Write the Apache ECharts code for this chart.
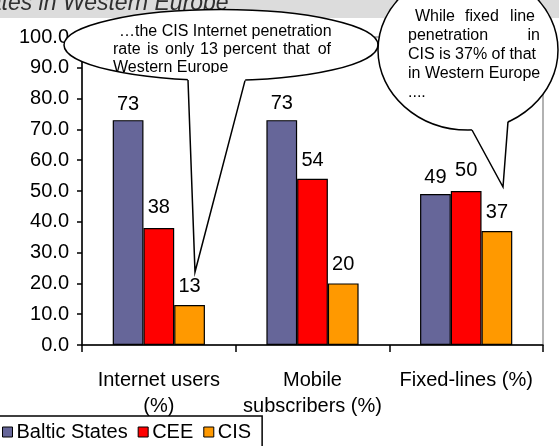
<!DOCTYPE html>
<html>
<head>
<meta charset="utf-8">
<script src="https://cdn.jsdelivr.net/npm/echarts@6/dist/echarts.min.js"></script>
<style>
  html, body { margin: 0; padding: 0; background: #fff; }
  #chart { width: 559px; height: 446px; }
</style>
</head>
<body>
<div id="chart"></div>
<script>
// Penetration rates by region (%)
const categories = ['Internet users\n(%)', 'Mobile\nsubscribers (%)', 'Fixed-lines (%)'];
const seriesNames = ['Baltic States', 'CEE', 'CIS'];
const balticStates = [73, 73, 49];
const cee = [38, 54, 50];
const cis = [13, 20, 37];
const colors = ['#666699', '#FF0000', '#FF9900'];

// per-bar label offsets above the bar top
const labelDistance = [[6, 7, 7], [10, 8, 11], [8, 9, 9]];

const FONT = '"Liberation Sans", Arial, sans-serif';

function barSeries(name, values, color, dist) {
  return {
    name: name,
    type: 'bar',
    barGap: '0%',
    barCategoryGap: '40%',
    itemStyle: { color: color, borderColor: '#000', borderWidth: 1.2 },
    label: { show: true, position: 'top', color: '#000', fontSize: 20, fontFamily: FONT },
    data: values.map((v, i) => ({ value: v, label: { distance: dist[i] } }))
  };
}

const chart = echarts.init(document.getElementById('chart'), null, { renderer: 'canvas' });

// callout helpers
function txt(s, x, y, z, align) {
  return {
    type: 'text', z: z, silent: true,
    style: { text: s, x: x, y: y, fill: '#000', font: '16px ' + FONT,
             align: align || 'left', verticalAlign: 'middle' }
  };
}

const graphics = [
  // heading strip
  { type: 'rect', z: 10, silent: true, shape: { x: 0, y: 0, width: 559, height: 18 }, style: { fill: '#dcdcdc' } },
  { type: 'text', z: 11, silent: true,
    style: { text: 'States in Western Europe', x: -33, y: 4, fill: '#303030',
             font: 'italic 23px ' + FONT, verticalAlign: 'middle' } },

  // callout 1 body
  { type: 'ellipse', z: 20, silent: true, shape: { cx: 221, cy: 45, rx: 157, ry: 35.5 }, style: { fill: '#fff', stroke: null } },
  txt('\u2026the CIS Internet penetration', 119, 32, 21),
  txt('rate', 113, 50, 21), txt('is', 147, 50, 21), txt('only', 165, 50, 21), txt('13', 200, 50, 21),
  txt('percent', 223, 50, 21), txt('that', 283, 50, 21), txt('of', 331, 50, 21, 'right'),
  txt('Western Europe', 113, 68, 21),
  { type: 'rect', z: 22, silent: true, shape: { x: 331, y: 20, width: 20, height: 24 }, style: { fill: '#fff' } },
  { type: 'rect', z: 22, silent: true, shape: { x: 124, y: 73, width: 210, height: 9 }, style: { fill: '#fff' } },
  { type: 'ellipse', z: 23, silent: true, shape: { cx: 221, cy: 45, rx: 157, ry: 35.5 }, style: { fill: null, stroke: '#000', lineWidth: 1.5 } },
  { type: 'polygon', z: 24, silent: true, shape: { points: [[187, 76], [188, 80], [195, 272], [245, 80.6], [246, 76]] }, style: { fill: '#fff', stroke: null } },
  { type: 'polyline', z: 25, silent: true, shape: { points: [[188, 80], [195, 272], [245, 80.6]] }, style: { fill: null, stroke: '#000', lineWidth: 1.5 } },

  // callout 2 body
  { type: 'ellipse', z: 30, silent: true, shape: { cx: 468, cy: 50, rx: 90, ry: 80 }, style: { fill: '#fff', stroke: '#000', lineWidth: 1.5 } },
  txt('While', 415, 17, 31), txt('fixed', 465, 17, 31), txt('line', 535, 17, 31, 'right'),
  txt('penetration', 408, 36, 31), txt('in', 540, 36, 31, 'right'),
  txt('CIS is 37% of that', 408, 55, 31),
  txt('in Western Europe', 408, 74, 31),
  txt('....', 408, 93, 31),
  { type: 'polygon', z: 32, silent: true, shape: { points: [[471, 124], [472, 130], [503, 187], [508, 121.6], [507, 116]] }, style: { fill: '#fff', stroke: null } },
  { type: 'polyline', z: 33, silent: true, shape: { points: [[472, 130], [503, 187], [508, 121.6]] }, style: { fill: null, stroke: '#000', lineWidth: 1.5 } }
];

chart.setOption({
  animation: false,
  backgroundColor: '#fff',
  textStyle: { fontFamily: FONT },
  grid: {
    left: 82, right: 16, top: 37, bottom: 101,
    show: true, borderColor: '#999', borderWidth: 1.5, backgroundColor: 'transparent'
  },
  legend: {
    data: seriesNames,
    left: -1, top: 416,
    orient: 'horizontal',
    icon: 'rect',
    itemWidth: 10, itemHeight: 10, itemGap: 10,
    padding: [6, 11, 20, 3],
    borderColor: '#000', borderWidth: 1.5,
    itemStyle: { borderColor: '#000', borderWidth: 1 },
    textStyle: { fontSize: 20, color: '#000', fontFamily: FONT, padding: [0, 0, 0, -1] }
  },
  xAxis: {
    type: 'category',
    data: categories,
    axisLine: { lineStyle: { color: '#000', width: 1.5 } },
    axisTick: { show: true, length: 7, alignWithLabel: false, lineStyle: { color: '#000', width: 1.5 } },
    axisLabel: { color: '#000', fontSize: 20, fontFamily: FONT, margin: 22, lineHeight: 26, interval: 0 }
  },
  yAxis: {
    type: 'value',
    min: 0, max: 100, interval: 10,
    axisLine: { show: true, lineStyle: { color: '#000', width: 1.5 } },
    axisTick: { show: true, length: 5, lineStyle: { color: '#000', width: 1.5 } },
    splitLine: { show: false },
    axisLabel: { color: '#000', fontSize: 20, fontFamily: FONT, margin: 13, formatter: v => v.toFixed(1) }
  },
  series: [
    barSeries(seriesNames[0], balticStates, colors[0], labelDistance[0]),
    barSeries(seriesNames[1], cee, colors[1], labelDistance[1]),
    barSeries(seriesNames[2], cis, colors[2], labelDistance[2])
  ],
  graphic: graphics
});
</script>
</body>
</html>
